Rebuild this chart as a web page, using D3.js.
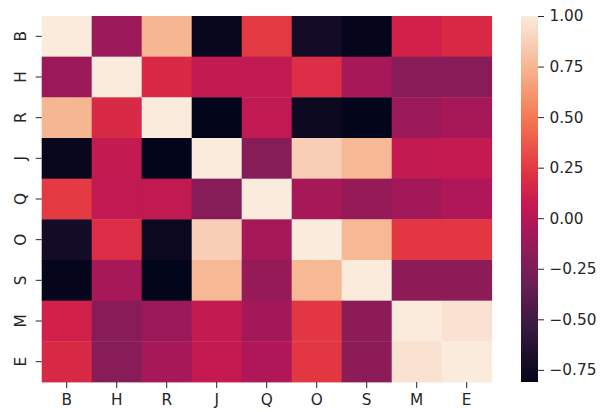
<!DOCTYPE html>
<html><head><meta charset="utf-8">
<script src="https://cdn.jsdelivr.net/npm/d3@7"></script>
<style>body{margin:0;background:#fff}svg{display:block}</style></head>
<body>
<script>
const labels = ["B","H","R","J","Q","O","S","M","E"];
const rowB = [ 1.00, -0.11,  0.75, -0.78,  0.25, -0.72, -0.80,  0.13,  0.17];
const rowH = [-0.11,  1.00,  0.17,  0.06,  0.05,  0.19, -0.06, -0.19, -0.19];
const rowR = [ 0.75,  0.17,  1.00, -0.81,  0.05, -0.77, -0.81, -0.11, -0.06];
const rowJ = [-0.78,  0.06, -0.81,  1.00, -0.20,  0.87,  0.76,  0.06,  0.07];
const rowQ = [ 0.25,  0.05,  0.05, -0.20,  1.00, -0.06, -0.13, -0.08, -0.02];
const rowO = [-0.72,  0.19, -0.77,  0.87, -0.06,  1.00,  0.76,  0.24,  0.24];
const rowS = [-0.80, -0.06, -0.81,  0.76, -0.13,  0.76,  1.00, -0.17, -0.17];
const rowM = [ 0.13, -0.19, -0.11,  0.06, -0.08,  0.24, -0.17,  1.00,  0.96];
const rowE = [ 0.17, -0.19, -0.06,  0.07, -0.02,  0.24, -0.17,  0.96,  1.00];
const values = [rowB,rowH,rowR,rowJ,rowQ,rowO,rowS,rowM,rowE];
const cbarTicks = [1.00,0.75,0.50,0.25,0.00,-0.25,-0.50,-0.75];

// rocket colormap stops (style)
const stopPos = [0, 1/7, 2/7, 3/7, 0.5, 4/7, 5/7, 6/7, 1];
const stopCol = ["#03051a","#35193e","#701f57","#ad1759","#cb1b4f","#e13342","#f37651","#f6b48f","#faebdd"];

const W = 606, H = 412;
const L = 41.7, R = 491.7, T = 16, B = 382;
const cbL = 521, cbR = 538;
const textColor = "#262626";
const fontSize = "15.3px";
const font = "DejaVu Sans, sans-serif";

const svg = d3.select("body").append("svg").attr("width", W).attr("height", H);

const x = d3.scaleBand().domain(labels).range([L, R]);
const y = d3.scaleBand().domain(labels).range([T, B]);
const [vmin, vmax] = d3.extent(values.flat());
const color = d3.scaleLinear()
  .domain(stopPos.map(p => vmin + p * (vmax - vmin)))
  .range(stopCol)
  .interpolate(d3.interpolateRgb)
  .clamp(true);

const cells = [];
values.forEach((row, i) => row.forEach((v, j) => cells.push({r: labels[i], c: labels[j], v})));

svg.append("g").selectAll("rect").data(cells).join("rect")
  .attr("x", d => x(d.c))
  .attr("y", d => y(d.r))
  .attr("width", x.bandwidth() + 0.4)
  .attr("height", y.bandwidth() + 0.4)
  .attr("fill", d => color(d.v));

// x axis
const gx = svg.append("g").attr("transform", `translate(0,${B})`)
  .call(d3.axisBottom(x).tickSize(6).tickPadding(6.5));
// y axis
const gy = svg.append("g").attr("transform", `translate(${L},0)`)
  .call(d3.axisLeft(y).tickSize(6));
gy.selectAll(".tick text")
  .attr("x", null).attr("dy", null)
  .attr("text-anchor", "middle")
  .attr("dominant-baseline", "central")
  .attr("transform", "translate(-20.5,0) rotate(-90)");

// colorbar
const cy = d3.scaleLinear().domain([vmin, vmax]).range([B, T]);
const defs = svg.append("defs");
const grad = defs.append("linearGradient").attr("id", "cb")
  .attr("x1", 0).attr("y1", 1).attr("x2", 0).attr("y2", 0);
d3.range(0, 1.0001, 0.02).forEach(p => {
  grad.append("stop").attr("offset", p).attr("stop-color", color(vmin + p * (vmax - vmin)));
});
svg.append("rect").attr("x", cbL).attr("y", T).attr("width", cbR - cbL).attr("height", B - T)
  .attr("fill", "url(#cb)");
const gc = svg.append("g").attr("transform", `translate(${cbR},0)`)
  .call(d3.axisRight(cy).tickValues(cbarTicks).tickFormat(d3.format(".2f")).tickSize(6).tickPadding(5.5));

[gx, gy, gc].forEach(g => {
  g.select(".domain").remove();
  g.selectAll(".tick line").attr("stroke", textColor).attr("stroke-width", 1);
  g.selectAll(".tick text").attr("fill", textColor).style("font-size", fontSize).style("font-family", font);
});
</script>
</body></html>
